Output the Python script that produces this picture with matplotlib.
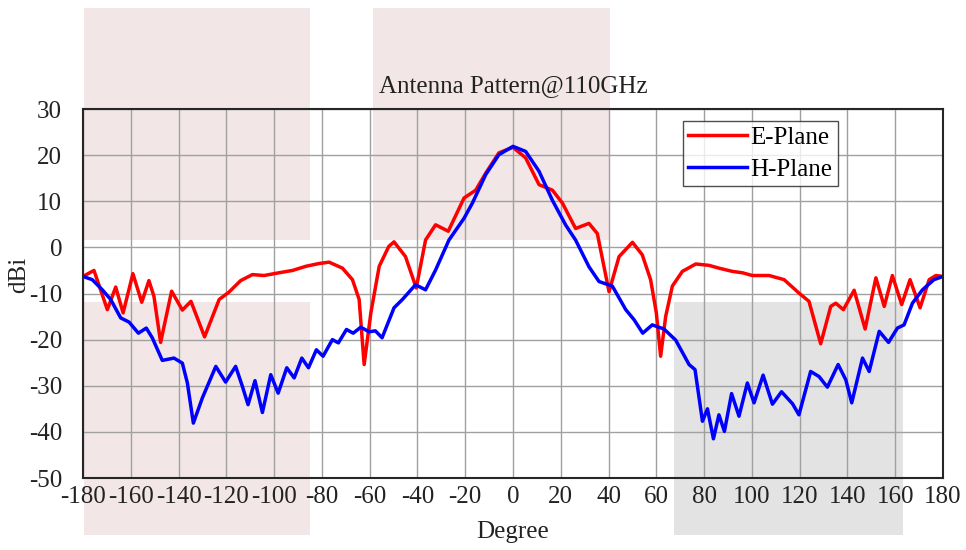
import matplotlib
matplotlib.use("Agg")
import matplotlib.pyplot as plt
from matplotlib.patches import Rectangle

plt.rcParams["font.family"] = ["Liberation Serif", "DejaVu Serif"]
plt.rcParams["axes.unicode_minus"] = False

# E-plane (red)
e_deg = [-180, -175.4, -169.8, -166.3, -163.2, -159.1, -155.4, -152.4, -150.3, -147.5,
         -142.9, -138.4, -134.8, -129.1, -123.0, -118.9, -114.0, -109.1, -104.2, -97.9,
         -92.3, -86.7, -81.2, -77.0, -71.4, -67.2, -64.4, -62.3, -59.5, -56.0,
         -52.0, -49.8, -45.0, -40.5, -36.6, -32.4, -27.1, -20.5, -15.6, -11.4,
         -5.9, 0, 5.3, 10.9, 16.5, 20.7, 26.2, 31.8, 35.3, 38.1,
         40.2, 44.4, 50.0, 54.1, 57.6, 60.0, 61.8, 63.9, 66.7, 70.9,
         76.5, 82.1, 86.2, 91.8, 96.0, 100.2, 107.2, 113.5, 119.7, 123.9,
         128.8, 133.0, 135.1, 138.3, 142.8, 147.4, 151.9, 155.4, 158.8, 162.7,
         166.2, 170.4, 174.2, 177.0, 180]
e_dbi = [-6.3, -5.0, -13.5, -8.6, -14.2, -5.7, -11.9, -7.2, -10.6, -20.6,
         -9.5, -13.6, -11.7, -19.4, -11.3, -9.7, -7.2, -5.9, -6.1, -5.5,
         -5.0, -4.1, -3.5, -3.2, -4.5, -7.0, -11.3, -25.4, -14.2, -4.1,
         0.2, 1.2, -2.0, -8.8, 1.6, 4.9, 3.5, 10.7, 12.4, 16.1,
         20.5, 21.7, 19.4, 13.6, 12.4, 9.6, 4.1, 5.2, 3.0, -4.2,
         -9.6, -2.0, 1.1, -1.6, -7.0, -14.2, -23.6, -15.0, -8.4, -5.2,
         -3.6, -3.9, -4.5, -5.2, -5.5, -6.1, -6.1, -7.0, -9.9, -11.7,
         -20.9, -12.8, -12.1, -13.5, -9.3, -17.7, -6.6, -12.8, -6.1, -12.4,
         -7.0, -13.1, -7.0, -6.1, -6.3]

# H-plane (blue)
h_deg = [-180, -176.1, -171.9, -168.4, -164.2, -160.7, -156.8, -153.5, -151.0, -146.8,
         -141.9, -138.4, -136.3, -133.8, -130.0, -124.4, -120.3, -116.1, -113.3, -110.9,
         -108.0, -104.9, -101.4, -98.3, -94.7, -91.6, -88.4, -85.6, -82.3, -79.5,
         -75.6, -73.1, -69.7, -66.9, -63.7, -60.3, -57.6, -54.8, -49.8, -46.3,
         -40.8, -36.6, -32.4, -26.8, -20.5, -17.0, -11.4, -5.9, 0, 5.3,
         10.9, 16.5, 22.1, 26.2, 31.8, 36.0, 41.6, 47.2, 50.7, 54.3,
         58.3, 63.2, 68.1, 73.7, 76.2, 79.3, 81.4, 83.9, 86.2, 88.5,
         91.5, 94.6, 98.1, 100.9, 104.7, 108.6, 112.4, 117.0, 119.7, 124.6,
         128.1, 131.6, 136.1, 139.3, 141.8, 146.3, 149.1, 153.3, 157.2, 160.9,
         163.7, 167.2, 171.4, 176.2, 180]
h_dbi = [-6.3, -7.0, -9.2, -11.3, -15.3, -16.2, -18.6, -17.5, -19.6, -24.5,
         -24.0, -25.1, -29.4, -38.1, -32.6, -25.8, -29.2, -25.8, -30.1, -34.1,
         -28.9, -35.8, -27.6, -31.6, -26.1, -28.3, -24.0, -26.1, -22.2, -23.6,
         -20.0, -20.7, -17.8, -18.6, -17.3, -18.3, -18.1, -19.6, -13.1, -11.3,
         -8.1, -9.2, -4.9, 1.6, 6.3, 9.6, 15.8, 20.1, 21.9, 20.8,
         16.5, 10.2, 4.8, 1.6, -4.2, -7.4, -8.4, -13.5, -15.7, -18.6,
         -16.8, -17.7, -20.1, -25.4, -26.5, -37.7, -35.0, -41.5, -36.3, -39.9,
         -31.7, -36.6, -29.4, -33.7, -27.7, -34.0, -31.3, -33.9, -36.3, -26.9,
         -28.0, -30.3, -25.4, -28.7, -33.7, -24.0, -26.9, -18.2, -20.6, -17.5,
         -16.8, -12.1, -9.2, -7.0, -6.3]

x_ticks = list(range(-180, 181, 20))
y_ticks = list(range(-50, 31, 10))

# highlight boxes laid over the figure (figure fraction: x, y, w, h)
pink_boxes = [(0.087, 0.5636, 0.234, 0.4218),
              (0.386, 0.5636, 0.245, 0.4218),
              (0.087, 0.0273, 0.234, 0.4236)]
gray_boxes = [(0.6977, 0.0273, 0.237, 0.4236)]

FS = 18

fig = plt.figure(figsize=(9.66, 5.50), dpi=100)
for x, y, w, h in pink_boxes:
    fig.patches.append(Rectangle((x, y), w, h, transform=fig.transFigure,
                                 facecolor="#F2E6E6", edgecolor="none", zorder=-5))
for x, y, w, h in gray_boxes:
    fig.patches.append(Rectangle((x, y), w, h, transform=fig.transFigure,
                                 facecolor="#E3E3E3", edgecolor="none", zorder=-5))

ax = fig.add_axes([0.0859, 0.1309, 0.8903, 0.6709])
ax.set_facecolor("none")

ax.plot(e_deg, e_dbi, color="#FF0000", lw=2.5, label="E-Plane")
ax.plot(h_deg, h_dbi, color="#0000FF", lw=2.5, label="H-Plane")

ax.set_xlim(-180, 180)
ax.set_ylim(-50, 30)
ax.set_xticks(x_ticks)
ax.set_yticks(y_ticks)
ax.tick_params(labelsize=FS, direction="in", length=0, colors="#222222")
ax.tick_params(axis="x", pad=6)
ax.tick_params(axis="y", pad=15)
ax.grid(True, color="#A0A0A0", lw=1.0)
for sp in ax.spines.values():
    sp.set_linewidth(1.5)
    sp.set_color("#262626")

ax.set_title("Antenna Pattern@110GHz", fontsize=FS, color="#222222", pad=12)
ax.set_xlabel("Degree", fontsize=FS, color="#222222", labelpad=9)
ax.set_ylabel("dBi", fontsize=FS, color="#222222")
ax.yaxis.set_label_coords(-0.062, 0.55)

leg = ax.legend(loc="upper left", bbox_to_anchor=(683 / 966, 1 - 121 / 550),
                bbox_transform=fig.transFigure, fontsize=FS, frameon=True,
                fancybox=False, handlelength=2.35, borderpad=0.2,
                labelspacing=0.4, handletextpad=0.15, borderaxespad=0)
leg.get_frame().set_edgecolor("#222222")
leg.get_frame().set_linewidth(1.0)

fig.savefig("out.png", dpi=100)
